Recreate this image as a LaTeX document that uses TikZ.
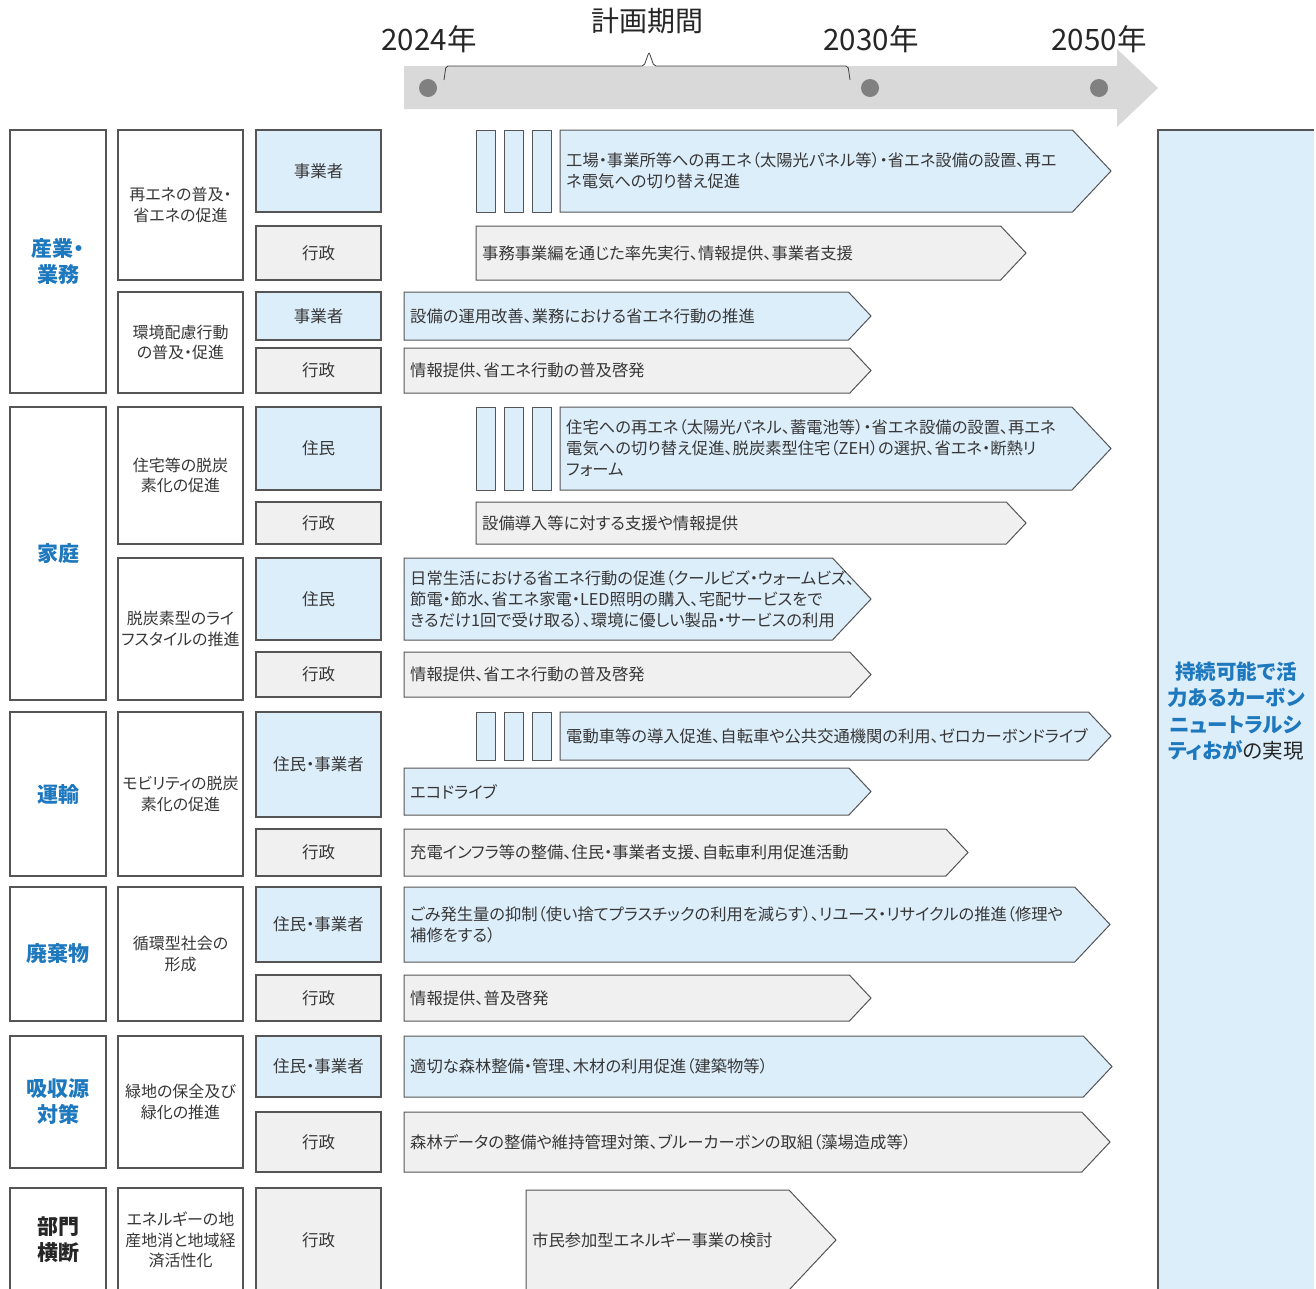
\documentclass[tikz,border=0pt]{standalone}
\usepackage{fontspec}
\setmainfont{Noto Sans CJK JP}[RawFeature={+palt}]
\definecolor{bluefill}{RGB}{221,238,251}
\definecolor{grayfill}{RGB}{240,240,240}
\definecolor{hdrgray}{RGB}{217,217,217}
\definecolor{dotgray}{RGB}{128,128,128}
\definecolor{bordc}{RGB}{85,85,85}
\definecolor{txtc}{RGB}{55,55,55}
\definecolor{catblue}{RGB}{30,120,190}
\tikzset{
 cellbase/.style={draw=bordc, line width=1.1pt, inner sep=0pt, outer sep=0pt, align=center, text=txtc},
 catcell/.style={cellbase, fill=white, text=catblue, font=\fontsize{21}{26}\selectfont\bfseries},
 catblack/.style={cellbase, fill=white, text=black!85, font=\fontsize{21}{26}\selectfont\bfseries},
 subcell/.style={cellbase, fill=white, font=\fontsize{16}{20.5}\selectfont},
 actblue/.style={cellbase, fill=bluefill, font=\fontsize{16.5}{20}\selectfont},
 actgray/.style={cellbase, fill=grayfill, font=\fontsize{16.5}{20}\selectfont},
 barblue/.style={draw=bordc, line width=1pt, fill=bluefill},
 bargray/.style={draw=bordc, line width=1pt, fill=grayfill},
 bartext/.style={anchor=west, align=left, inner sep=0pt, text=txtc, font=\fontsize{16.3}{21}\selectfont},
 yearlbl/.style={inner sep=0pt, text=black!85, font=\fontsize{29.5}{31}\selectfont},
 plnlbl/.style={inner sep=0pt, text=black!85, font=\fontsize{28}{30}\selectfont},
 brk/.style={draw=black!75, line width=0.8pt, rounded corners=2pt},
}
\newcommand\mkbar[7]{%
 \pgfmathsetmacro\bd{0.47*(#6-#4)}%
 \pgfmathsetmacro\bm{(#4+#6)/2}%
 \pgfmathsetmacro\bx{#5-\bd}%
 \draw[#2] (#3,#4) -- (\bx,#4) -- (#5,\bm) -- (\bx,#6) -- (#3,#6) -- cycle;
 \node[bartext] (#1) at (#3+6,\bm) {#7};
}
\newcommand\mkcell[7]{%
 \pgfmathsetmacro\cw{#5-#3}%
 \pgfmathsetmacro\ch{#6-#4}%
 \node[#2, minimum width=\cw pt, minimum height=\ch pt, anchor=north west] (#1) at (#3,#4) {#7};
}
\newcommand\mksmall[3]{%
 \draw[barblue] (476,#2) rectangle (495,#3);
 \draw[barblue] (504,#2) rectangle (523,#3);
 \draw[barblue] (532,#2) rectangle (551,#3);
}
\begin{document}
\begin{tikzpicture}[x=1pt,y=-1pt]
\useasboundingbox (0,0) rectangle (1316,1288);
\fill[white] (0,0) rectangle (1316,1288);

% timeline header
\fill[hdrgray] (404,66) -- (1117,66) -- (1117,49) -- (1158,88) -- (1117,127) -- (1117,109) -- (404,109) -- cycle;
\fill[dotgray] (428,88) circle (9pt);
\fill[dotgray] (870,88) circle (9pt);
\fill[dotgray] (1099,88) circle (9pt);
\draw[brk] (444,80) -- (446,66) -- (644,66) -- (649,52) -- (654,66) -- (848,66) -- (850,80);
\node[plnlbl] (plan) at (647,21) {計画期間};
\node[yearlbl] (y2024) at (429,39) {2024年};
\node[yearlbl] (y2030) at (871,39) {2030年};
\node[yearlbl] (y2050) at (1099,39) {2050年};

% right goal box
\fill[bluefill] (1158,130) rectangle (1314,1292);
\draw[bordc, line width=1.1pt] (1158,1292) -- (1158,130) -- (1314,130);
\node[align=center, inner sep=0pt, text=black!85, font=\fontsize{20.5}{26.5}\selectfont] (goal) at (1236,711)
 {{\color{catblue}\bfseries 持続可能で活}\\{\color{catblue}\bfseries 力あるカーボン}\\{\color{catblue}\bfseries ニュートラルシ}\\{\color{catblue}\bfseries ティおが}の実現};

% category column
\mkcell{catA}{catcell}{10}{130}{106}{393}{産業・\\業務}
\mkcell{catB}{catcell}{10}{407}{106}{700}{家庭}
\mkcell{catC}{catcell}{10}{712}{106}{876}{運輸}
\mkcell{catD}{catcell}{10}{887}{106}{1021}{廃棄物}
\mkcell{catE}{catcell}{10}{1036}{106}{1168}{吸収源\\対策}
\mkcell{catF}{catblack}{10}{1188}{106}{1292}{部門\\横断}

% sub column
\mkcell{subA1}{subcell}{118}{130}{243}{280}{再エネの普及・\\省エネの促進}
\mkcell{subA2}{subcell}{118}{292}{243}{393}{環境配慮行動\\の普及・促進}
\mkcell{subB1}{subcell}{118}{407}{243}{544}{住宅等の脱炭\\素化の促進}
\mkcell{subB2}{subcell}{118}{558}{243}{700}{脱炭素型のライ\\フスタイルの推進}
\mkcell{subC}{subcell}{118}{712}{243}{876}{モビリティの脱炭\\素化の促進}
\mkcell{subD}{subcell}{118}{887}{243}{1021}{循環型社会の\\形成}
\mkcell{subE}{subcell}{118}{1036}{243}{1168}{緑地の保全及び\\緑化の推進}
\mkcell{subF}{subcell}{118}{1188}{243}{1292}{エネルギーの地\\産地消と地域経\\済活性化}

% actor column
\mkcell{a1}{actblue}{256}{130}{381}{212}{事業者}
\mkcell{a2}{actgray}{256}{226}{381}{280}{行政}
\mkcell{a3}{actblue}{256}{292}{381}{340}{事業者}
\mkcell{a4}{actgray}{256}{348}{381}{393}{行政}
\mkcell{a5}{actblue}{256}{407}{381}{490}{住民}
\mkcell{a6}{actgray}{256}{502}{381}{544}{行政}
\mkcell{a7}{actblue}{256}{558}{381}{640}{住民}
\mkcell{a8}{actgray}{256}{652}{381}{697}{行政}
\mkcell{a9}{actblue}{256}{712}{381}{817}{住民・事業者}
\mkcell{a10}{actgray}{256}{829}{381}{876}{行政}
\mkcell{a11}{actblue}{256}{887}{381}{962}{住民・事業者}
\mkcell{a12}{actgray}{256}{975}{381}{1021}{行政}
\mkcell{a13}{actblue}{256}{1036}{381}{1097}{住民・事業者}
\mkcell{a14}{actgray}{256}{1112}{381}{1172}{行政}
\mkcell{a15}{actgray}{256}{1188}{381}{1292}{行政}

% bars
\mksmall{s1}{130}{212}
\mkbar{b1}{barblue}{560}{130}{1111}{212}{工場・事業所等への再エネ（太陽光パネル等）・省エネ設備の設置、再エ\\ネ電気への切り替え促進}
\mkbar{b2}{bargray}{476}{226}{1026}{280}{事務事業編を通じた率先実行、情報提供、事業者支援}
\mkbar{b3}{barblue}{404}{292}{871}{340}{設備の運用改善、業務における省エネ行動の推進}
\mkbar{b4}{bargray}{404}{348}{871}{393}{情報提供、省エネ行動の普及啓発}
\mksmall{s2}{407}{490}
\mkbar{b5}{barblue}{560}{407}{1111}{490}{住宅への再エネ（太陽光パネル、蓄電池等）・省エネ設備の設置、再エネ\\電気への切り替え促進、脱炭素型住宅（ZEH）の選択、省エネ・断熱リ\\フォーム}
\mkbar{b6}{bargray}{476}{502}{1026}{544}{設備導入等に対する支援や情報提供}
\mkbar{b7}{barblue}{404}{558}{871}{640}{日常生活における省エネ行動の促進（クールビズ・ウォームビズ、\\節電・節水、省エネ家電・LED照明の購入、宅配サービスをで\\きるだけ1回で受け取る）、環境に優しい製品・サービスの利用}
\mkbar{b8}{bargray}{404}{652}{871}{697}{情報提供、省エネ行動の普及啓発}
\mksmall{s3}{712}{760}
\mkbar{b9}{barblue}{560}{712}{1111}{760}{電動車等の導入促進、自転車や公共交通機関の利用、ゼロカーボンドライブ}
\mkbar{b10}{barblue}{404}{768}{871}{815}{エコドライブ}
\mkbar{b11}{bargray}{404}{829}{968}{876}{充電インフラ等の整備、住民・事業者支援、自転車利用促進活動}
\mkbar{b12}{barblue}{404}{887}{1110}{962}{ごみ発生量の抑制（使い捨てプラスチックの利用を減らす）、リユース・リサイクルの推進（修理や\\補修をする）}
\mkbar{b13}{bargray}{404}{975}{871}{1021}{情報提供、普及啓発}
\mkbar{b14}{barblue}{404}{1036}{1112}{1097}{適切な森林整備・管理、木材の利用促進（建築物等）}
\mkbar{b15}{bargray}{404}{1112}{1110}{1172}{森林データの整備や維持管理対策、ブルーカーボンの取組（藻場造成等）}
\mkbar{b16}{bargray}{526}{1190}{836}{1290}{市民参加型エネルギー事業の検討}
\end{tikzpicture}
\end{document}
